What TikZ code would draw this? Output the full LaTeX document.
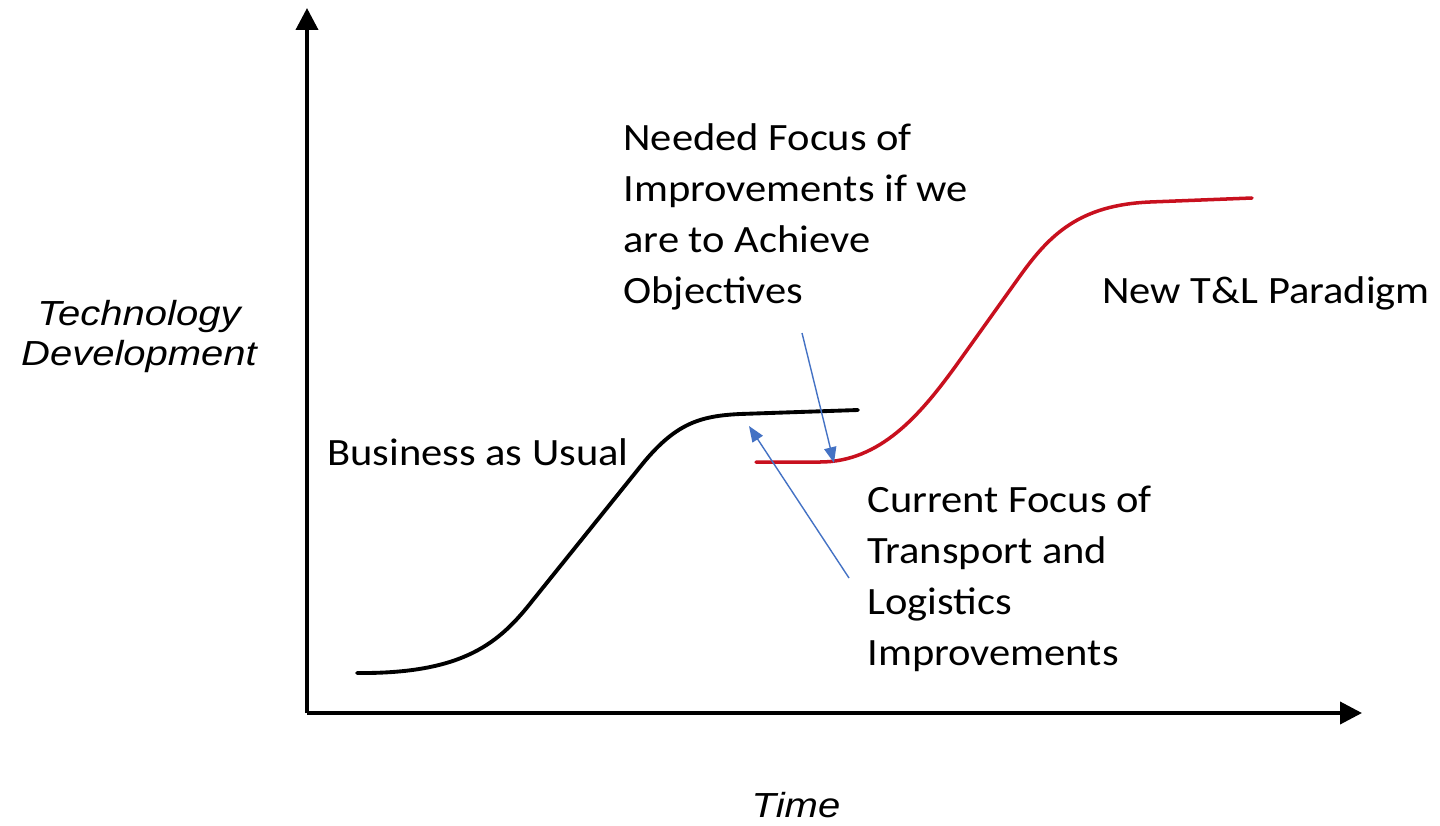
\documentclass[tikz,border=0pt]{standalone}
\usepackage{fontspec}
\setmainfont{Carlito}
\newfontfamily\axisfont{Liberation Sans}
\usetikzlibrary{arrows.meta}
\definecolor{curvered}{RGB}{200,16,30}
\definecolor{pointblue}{RGB}{68,114,196}
\tikzset{
	axisline/.style={line width=2.2pt, -{Triangle[length=12.5pt,width=12.5pt]}},
	scurve/.style={line width=2.2pt, line cap=round},
	pointer/.style={pointblue, line width=0.8pt, -{Triangle[length=9pt,width=7pt]}},
	textlabel/.style={inner sep=0pt, align=left, anchor=base west, xscale=1.1, font=\fontsize{22}{29}\selectfont},
	axislabel/.style={inner sep=0pt, align=center, anchor=base, xscale=1.15, font=\axisfont\itshape\fontsize{19.8}{22.7}\selectfont}
}
\begin{document}
\begin{tikzpicture}[x=0.02cm, y=-0.02cm]
		%%%%% START %%%%%
		\useasboundingbox (0, 0) rectangle (1440, 825);
		
		\coordinate (origin) at (307, 713);
		\coordinate (ytop) at (307, 8);
		\coordinate (xend) at (1362, 713);
		\draw[axisline] (origin) -- (ytop);
		\draw[axisline] (origin) -- (xend);
		
		% multi-line nodes sit on the baseline of their last line
		\node[axislabel] (techlabel) at (139, 365) {Technology\\Development};
		\node[axislabel] (timelabel) at (796, 817) {Time};
		
		\draw[scurve, black] (357, 673) .. controls (465, 674) and (500, 642) .. (533, 600) -- (640, 467) .. controls (675, 423) and (700, 416) .. (740, 414) -- (858, 410);
		\draw[scurve, curvered, line width=2pt] (756, 462) -- (820, 462) .. controls (880, 462) and (920, 415) .. (955, 367) -- (1020, 276) .. controls (1050, 234) and (1080, 205) .. (1150, 202) -- (1252, 198);
		
		\node[textlabel] (usual) at (327, 465) {Business as Usual};
		\node[textlabel] (paradigm) at (1102, 303) {New T\&L Paradigm};
		\node[textlabel] (needed) at (623, 303) {Needed Focus of\\Improvements if we\\are to Achieve\\Objectives};
		\node[textlabel] (current) at (867, 665) {Current Focus of\\Transport and\\Logistics\\Improvements};
		
		\coordinate (neededtail) at (802, 333);
		\coordinate (neededtip) at (834, 463);
		\coordinate (currenttail) at (849, 578);
		\coordinate (currenttip) at (749, 426);
		\draw[pointer] (neededtail) -- (neededtip);
		\draw[pointer] (currenttail) -- (currenttip);
		%%%%% END %%%%%
\end{tikzpicture}
\end{document}
